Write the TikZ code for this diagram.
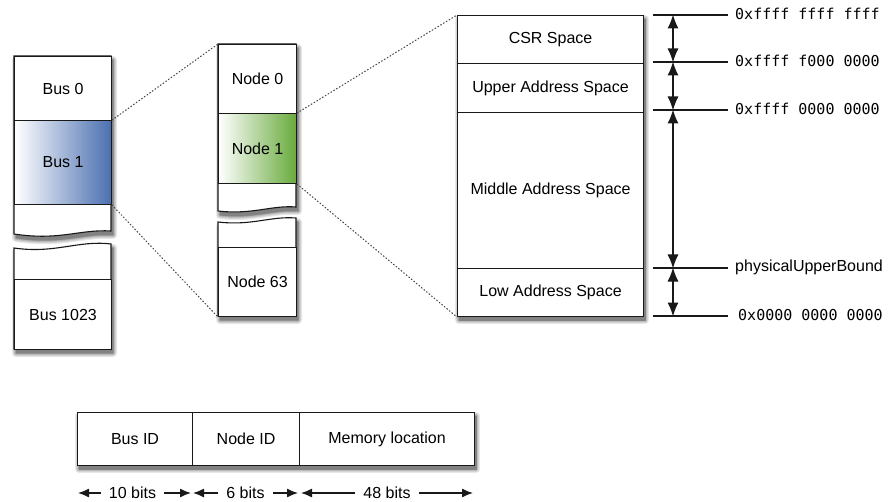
\documentclass[tikz,border=0pt]{standalone}
\usepackage{fontspec}
\setmainfont{Liberation Sans}
\setmonofont{DejaVu Sans Mono}
\usetikzlibrary{arrows.meta}

\definecolor{busblue}{RGB}{74,111,176}
\definecolor{nodegreen}{RGB}{104,170,60}
\definecolor{edgecol}{RGB}{25,25,25}
\definecolor{zoomcol}{RGB}{70,70,70}
\definecolor{shadeA}{RGB}{232,232,232}
\definecolor{shadeB}{RGB}{212,212,212}
\definecolor{shadeC}{RGB}{188,188,188}
\definecolor{shadeD}{RGB}{160,160,160}
\definecolor{shadeE}{RGB}{130,130,130}

\begin{document}
\begin{tikzpicture}[x=1pt,y=-1pt,
  font=\fontsize{16}{19}\selectfont,
  outline/.style={draw=edgecol, line width=1.1pt},
  cell/.style={outline, fill=white, inner sep=0pt, anchor=north west},
  size/.style 2 args={minimum width=#1, minimum height=#2},
  shadowA/.style={fill=shadeA, draw=shadeA, line width=8pt, line join=round},
  shadowB/.style={fill=shadeB, draw=shadeB, line width=6pt, line join=round},
  shadowC/.style={fill=shadeC, draw=shadeC, line width=4pt, line join=round},
  shadowD/.style={fill=shadeD, draw=shadeD, line width=2pt, line join=round},
  shadowE/.style={fill=shadeE, draw=shadeE, line width=0.5pt, line join=round},
  zoomline/.style={draw=zoomcol, line width=1.1pt, dash pattern=on 0.9pt off 2.4pt, line cap=round},
  tick/.style={draw=edgecol, line width=1.1pt},
  span/.style={draw=edgecol, line width=1.3pt, {Latex[length=14pt,width=11pt]}-{Latex[length=14pt,width=11pt]}, shorten <=-0.5pt, shorten >=-0.5pt},
  addr/.style={anchor=west, inner sep=0pt, font=\ttfamily\fontsize{15}{18}\selectfont},
  bitlabel/.style={inner xsep=8pt, inner ysep=0pt},
  bitarrow/.style={draw=edgecol, line width=1.3pt, -{Latex[length=11pt,width=9pt]}}
]
\useasboundingbox (0,0) rectangle (890,502);

% soft shadows: grey copies of each block outline, offset down and right,
% widest and lightest first
\foreach \s in {shadowA,shadowB,shadowC,shadowD,shadowE}{
  \begin{scope}[shift={(2,4)}]
    \path[\s] (14,56) -- (111,56) -- (111,231) .. controls (80,229) and (60,241) .. (14,234) -- cycle;
    \path[\s] (14,248) .. controls (55,254) and (78,240) .. (111,244) -- (111,349) -- (14,349) -- cycle;
    \path[\s] (218,44) -- (296,44) -- (296,207) .. controls (272,205) and (252,215) .. (218,211) -- cycle;
    \path[\s] (218,222) .. controls (252,226) and (270,216) .. (296,218) -- (296,316) -- (218,316) -- cycle;
    \path[\s] (457,15) rectangle (643,316);
    \path[\s] (77,412) rectangle (474,465);
  \end{scope}
}

% ---------- bus column ----------
\draw[outline, fill=white] (14,56) -- (111,56) -- (111,231) .. controls (80,229) and (60,241) .. (14,234) -- cycle;
\draw[outline, fill=white] (14,248) .. controls (55,254) and (78,240) .. (111,244) -- (111,349) -- (14,349) -- cycle;
\node[cell, size={97pt}{64pt}] (bus0) at (14,56) {Bus 0};
\node[cell, size={97pt}{84pt}, left color=white, right color=busblue] (bus1) at (14,120) {Bus 1};
\node[cell, size={97pt}{70pt}] (bus1023) at (14,279) {Bus 1023};

% ---------- node column ----------
\draw[outline, fill=white] (218,44) -- (296,44) -- (296,207) .. controls (272,205) and (252,215) .. (218,211) -- cycle;
\draw[outline, fill=white] (218,222) .. controls (252,226) and (270,216) .. (296,218) -- (296,316) -- (218,316) -- cycle;
\node[cell, size={78pt}{69pt}] (node0) at (218,44) {Node 0};
\node[cell, size={78pt}{70pt}, left color=white, right color=nodegreen] (node1) at (218,113) {Node 1};
\node[cell, size={78pt}{69pt}] (node63) at (218,247) {Node 63};

% ---------- address space of one node ----------
\node[cell, size={186pt}{48pt}] (csr) at (457,15) {CSR Space};
\node[cell, size={186pt}{49pt}] (upper) at (457,63) {Upper Address Space};
\node[cell, size={186pt}{156pt}] (middle) at (457,112) {Middle Address Space};
\node[cell, size={186pt}{48pt}] (low) at (457,268) {Low Address Space};

% dotted zoom lines
\draw[zoomline] (bus1.north east) -- (node0.north west);
\draw[zoomline] (bus1.south east) -- (node63.south west);
\draw[zoomline] (node1.north east) -- (csr.north west);
\draw[zoomline] (node1.south east) -- (low.south west);

% boundary ticks and their addresses
\coordinate (t1) at (653,15);  \coordinate (t1e) at (728,15);
\coordinate (t2) at (653,62);  \coordinate (t2e) at (728,62);
\coordinate (t3) at (653,110); \coordinate (t3e) at (728,110);
\coordinate (t4) at (653,268); \coordinate (t4e) at (728,268);
\coordinate (t5) at (653,316); \coordinate (t5e) at (728,316);
\foreach \t in {t1,t2,t3,t4,t5} \draw[tick] (\t) -- (\t e);

\node[addr] (a1) at (735,14) {0xffff ffff ffff};
\node[addr] (a2) at (735,61) {0xffff f000 0000};
\node[addr] (a3) at (735,109) {0xffff 0000 0000};
\node[anchor=west, inner sep=0pt] (a4) at (735,267) {physicalUpperBound};
\node[addr] (a5) at (738,315) {0x0000 0000 0000};

% extent arrows
\coordinate (d1) at (673,15);
\coordinate (d2) at (673,62);
\coordinate (d3) at (673,110);
\coordinate (d4) at (673,268);
\coordinate (d5) at (673,316);
\draw[span] (d1) -- (d2);
\draw[span] (d2) -- (d3);
\draw[span] (d3) -- (d4);
\draw[span] (d4) -- (d5);

% ---------- address layout ----------
\node[cell, size={115pt}{53pt}] (busid) at (77,412) {Bus ID};
\node[cell, size={107pt}{53pt}] (nodeid) at (192,412) {Node ID};
\node[cell, size={175pt}{53pt}] (memloc) at (299,412) {Memory location};

\node[bitlabel] (b10) at (132.5,493) {10 bits};
\node[bitlabel] (b6) at (245.5,493) {6 bits};
\node[bitlabel] (b48) at (387,493) {48 bits};
\coordinate (e1) at (78,493);
\coordinate (e2) at (191,493);
\coordinate (e3) at (193,493);
\coordinate (e4) at (298,493);
\coordinate (e5) at (301,493);
\coordinate (e6) at (473,493);
\draw[bitarrow] (b10.west) -- (e1);
\draw[bitarrow] (b10.east) -- (e2);
\draw[bitarrow] (b6.west) -- (e3);
\draw[bitarrow] (b6.east) -- (e4);
\draw[bitarrow] (b48.west) -- (e5);
\draw[bitarrow] (b48.east) -- (e6);
\end{tikzpicture}
\end{document}
